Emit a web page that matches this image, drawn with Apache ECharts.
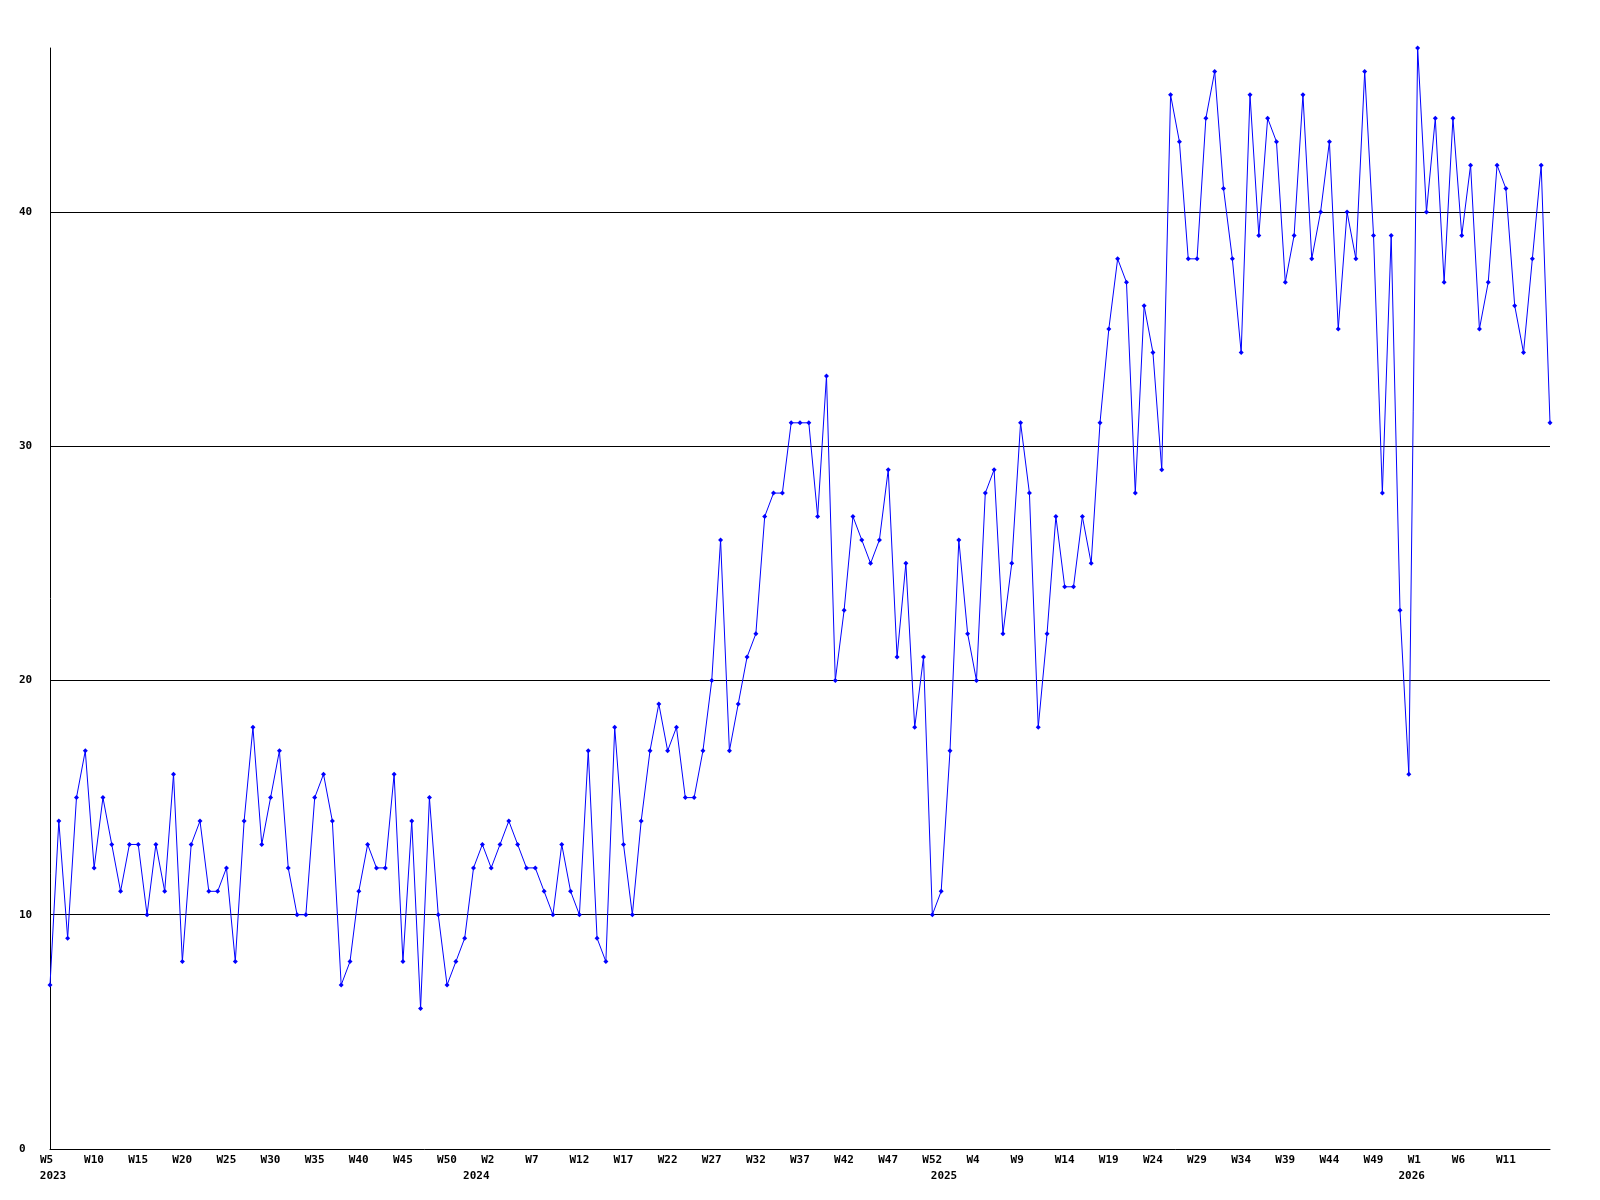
<!DOCTYPE html>
<html>
<head>
<meta charset="utf-8">
<script src="https://cdn.jsdelivr.net/npm/echarts@6/dist/echarts.min.js"></script>
<style>
html,body{margin:0;padding:0;background:#fff;}
#chart{width:1600px;height:1200px;}
</style>
</head>
<body>
<div id="chart"></div>
<script>
// Week tick labels per year
const weeks2023 = ['W5','W6','W7','W8','W9','W10','W11','W12','W13','W14','W15','W16','W17','W18','W19','W20','W21','W22','W23','W24','W25','W26','W27','W28','W29','W30','W31','W32','W33','W34','W35','W36','W37','W38','W39','W40','W41','W42','W43','W44','W45','W46','W47','W48','W49','W50','W51','W52','W53'];
const weeks2024 = ['W1','W2','W3','W4','W5','W6','W7','W8','W9','W10','W11','W12','W13','W14','W15','W16','W17','W18','W19','W20','W21','W22','W23','W24','W25','W26','W27','W28','W29','W30','W31','W32','W33','W34','W35','W36','W37','W38','W39','W40','W41','W42','W43','W44','W45','W46','W47','W48','W49','W50','W51','W52','W53'];
const weeks2025 = ['W1','W2','W3','W4','W5','W6','W7','W8','W9','W10','W11','W12','W13','W14','W15','W16','W17','W18','W19','W20','W21','W22','W23','W24','W25','W26','W27','W28','W29','W30','W31','W32','W33','W34','W35','W36','W37','W38','W39','W40','W41','W42','W43','W44','W45','W46','W47','W48','W49','W50','W51','W52','W53'];
const weeks2026 = ['W1','W2','W3','W4','W5','W6','W7','W8','W9','W10','W11','W12','W13','W14','W15','W16'];
const yearLabels = ['2023','2024','2025','2026'];

// Weekly values
const values = [
  7,14,9,15,17,12,15,13,11,13,13,10,13,11,16,8,13,14,11,11,12,8,14,18,13,15,17,12,10,10,
  15,16,14,7,8,11,13,12,12,16,8,14,6,15,10,7,8,9,12,13,12,13,14,13,12,12,11,10,13,11,10,17,
  9,8,18,13,10,14,17,19,17,18,15,15,17,20,26,17,19,21,22,27,28,28,31,31,31,27,33,20,
  23,27,26,25,26,29,21,25,18,21,10,11,17,26,22,20,28,29,22,25,31,28,18,22,27,24,24,27,25,31,
  35,38,37,28,36,34,29,45,43,38,38,44,46,41,38,34,45,39,44,43,37,39,45,38,40,43,35,40,
  38,46,39,28,39,23,16,47,40,44,37,44,39,42,35,37,42,41,36,34,38,42,31
];

const yTicks = [0, 10, 20, 30, 40];

const weekGroups = [weeks2023, weeks2024, weeks2025, weeks2026];
const categories = [];
const years = [];
weekGroups.forEach((g, gi) => { g.forEach(w => { categories.push(w); years.push(yearLabels[gi]); }); });

const labelFont = { fontFamily: 'DejaVu Sans Mono', fontWeight: 'bold', fontSize: 11, color: '#000' };

const chart = echarts.init(document.getElementById('chart'), null, { renderer: 'canvas' });
chart.setOption({
  backgroundColor: '#fff',
  animation: false,
  grid: { left: 50, right: 50, top: 48, bottom: 51, containLabel: false },
  xAxis: [
    {
      type: 'category',
      data: categories,
      boundaryGap: false,
      position: 'bottom',
      axisLine: { show: true, lineStyle: { color: '#000', width: 1 } },
      axisTick: { show: false },
      splitLine: { show: false },
      axisLabel: Object.assign({
        interval: 4,
        margin: 6,
        align: 'left',
        showMaxLabel: false,
        padding: [0, 0, 0, -10]
      }, labelFont)
    },
    {
      type: 'category',
      data: years,
      boundaryGap: false,
      position: 'bottom',
      offset: 16,
      axisLine: { show: false },
      axisTick: { show: false },
      splitLine: { show: false },
      axisLabel: Object.assign({
        interval: function (idx) { return idx === 0 || years[idx] !== years[idx - 1]; },
        margin: 6,
        align: 'center',
        formatter: function (v, idx) { return idx === 0 ? '{a|' + v + '}' : '{b|' + v + '}'; },
        rich: {
          a: Object.assign({ padding: [0, 0, 0, 6] }, labelFont),
          b: Object.assign({ padding: [0, 12, 0, 0] }, labelFont)
        }
      }, labelFont)
    }
  ],
  yAxis: {
    type: 'value',
    min: 0,
    max: 47,
    interval: 10,
    axisLine: { show: true, lineStyle: { color: '#000', width: 1 } },
    axisTick: { show: false },
    splitLine: { show: true, showMaxLine: false, showMinLine: false, lineStyle: { color: '#000', width: 1 } },
    axisLabel: Object.assign({
      margin: 31,
      align: 'left',
      showMaxLabel: false,
      formatter: function (v) { return yTicks.indexOf(v) >= 0 ? String(v) : ''; }
    }, labelFont)
  },
  series: [{
    type: 'line',
    xAxisIndex: 0,
    data: values,
    symbol: 'diamond',
    symbolSize: 5,
    showAllSymbol: true,
    lineStyle: { color: '#0000ff', width: 1 },
    itemStyle: { color: '#0000ff' }
  }]
});
</script>
</body>
</html>
